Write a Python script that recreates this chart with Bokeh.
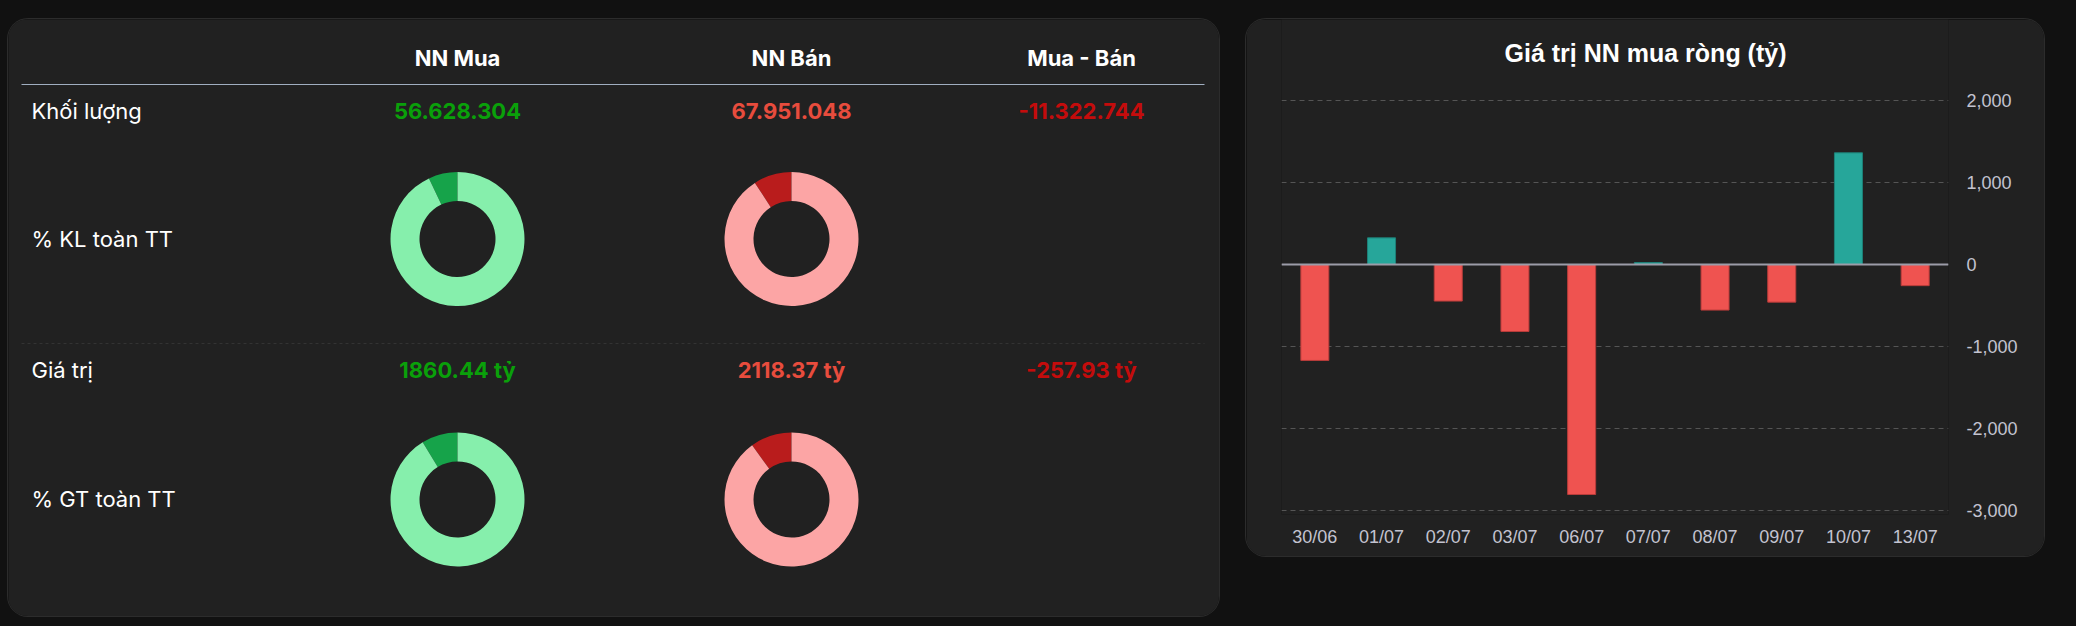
import math
from bokeh.plotting import figure
from bokeh.layouts import row
from bokeh.models import (ColumnDataSource, Range1d, FactorRange, FixedTicker,
                          NumeralTickFormatter, Span, Label, GlobalInlineStyleSheet)
from bokeh.core.properties import value
from bokeh.embed import file_html
from bokeh.resources import INLINE

# ---------------- data ----------------
columns = ["NN Mua", "NN Bán", "Mua - Bán"]
row_labels = ["Khối lượng", "% KL toàn TT", "Giá trị", "% GT toàn TT"]
kl_values = [56628304, 67951048, -11322744]
gt_values = [1860.44, 2118.37, -257.93]
kl_pct = [7.0, 9.2]      # share of whole-market volume (NN Mua, NN Bán), %
gt_pct = [8.7, 10.0]     # share of whole-market value (NN Mua, NN Bán), %
chart_title = "Giá trị NN mua ròng (tỷ)"
dates = ["30/06", "01/07", "02/07", "03/07", "06/07", "07/07", "08/07", "09/07", "10/07", "13/07"]
net_values = [-1170, 325, -446, -817, -2805, 24, -556, -459, 1362, -257.93]
y_ticks = [-3000, -2000, -1000, 0, 1000, 2000]

# ---------------- styles ----------------
BG = "#111111"
PANEL = "#212121"
WHITE = "#ffffff"
VALUE_COLORS = ["#0aa00a", "#e84c3d", "#c40c0c"]
DONUT_DARK = ["#16a34a", "#b91c1c"]
DONUT_LIGHT = ["#86efac", "#fca5a5"]
POS, NEG = "#26a69a", "#ef5350"
POS_EDGE, NEG_EDGE = "#1d8178", "#b83c3a"
TICK_COLOR = "#c3c3d0"
panel_styles = {"border-radius": "20px", "overflow": "hidden",
                "box-shadow": "0 0 0 1px #2c2c2c"}

# ---------------- left panel (table + donuts) ----------------
LW, LH = 1211, 597
left = figure(width=LW, height=LH, x_range=Range1d(0, LW), y_range=Range1d(0, LH),
              output_backend="svg", toolbar_location=None,
              x_axis_type=None, y_axis_type=None, min_border=0,
              background_fill_color=PANEL, border_fill_color=PANEL,
              outline_line_color=None, margin=(19, 0, 10, 8), styles=panel_styles,
              frame_align=False)
left.grid.visible = False

col_x = [449, 783, 1073]
label_x = 23
header_y = LH - 38
line_y = LH - 65
row_y = [LH - 91, LH - 219, LH - 350, LH - 479]
donut_y = [LH - 219.5, LH - 480]
sep_y = LH - 324

FONT = value("Inter")

left.text(x=col_x, y=[header_y] * 3, text=columns, text_font=FONT,
          text_font_size="22px", text_font_style="bold", text_color=WHITE,
          text_align="center", text_baseline="middle")
left.segment(x0=[13], y0=[line_y], x1=[1196], y1=[line_y], line_color="#a0aec0", line_width=1)
left.segment(x0=[13], y0=[sep_y], x1=[1196], y1=[sep_y], line_color="#333333",
             line_width=1, line_dash="3 3")

left.text(x=[label_x] * 4, y=row_y, text=row_labels, text_font=FONT,
          text_font_size="22px", text_color=WHITE,
          text_align="left", text_baseline="middle")

kl_text = [f"{v:,}".replace(",", ".") for v in kl_values]
gt_text = [f"{v:.2f} tỷ" for v in gt_values]
left.text(x=col_x, y=[row_y[0]] * 3, text=kl_text, text_font=FONT,
          text_font_size="22px", text_font_style="bold", text_color=VALUE_COLORS,
          text_align="center", text_baseline="middle")
left.text(x=col_x, y=[row_y[2]] * 3, text=gt_text, text_font=FONT,
          text_font_size="22px", text_font_style="bold", text_color=VALUE_COLORS,
          text_align="center", text_baseline="middle")

top = math.pi / 2
for pcts, cy in [(kl_pct, donut_y[0]), (gt_pct, donut_y[1])]:
    ends = [top + p / 100 * 2 * math.pi for p in pcts]
    left.annular_wedge(x=col_x[:2], y=[cy] * 2, inner_radius=38, outer_radius=67,
                       inner_radius_units="screen", outer_radius_units="screen",
                       start_angle=[top] * 2, end_angle=ends,
                       fill_color=DONUT_DARK, line_color=None)
    left.annular_wedge(x=col_x[:2], y=[cy] * 2, inner_radius=38, outer_radius=67,
                       inner_radius_units="screen", outer_radius_units="screen",
                       start_angle=ends, end_angle=[top + 2 * math.pi] * 2,
                       fill_color=DONUT_LIGHT, line_color=None)

# ---------------- right panel (bar chart) ----------------
RW, RH = 798, 537
FR_LEFT, FR_RIGHT, FR_TOP, FR_BOTTOM = 35, 96, 0, 42
frame_w = RW - FR_LEFT - FR_RIGHT          # 667 px
frame_h = RH - FR_TOP - FR_BOTTOM          # 495 px
GRID_TOP_PX, GRID_BOTTOM_PX = 81, 491      # where 2000 / -3000 sit (px from panel top)
per_px = (y_ticks[-1] - y_ticks[0]) / (GRID_BOTTOM_PX - GRID_TOP_PX)
y_hi = y_ticks[-1] + GRID_TOP_PX * per_px
y_lo = y_ticks[0] - (frame_h - GRID_BOTTOM_PX) * per_px

right = figure(width=RW, height=RH, x_range=FactorRange(factors=dates, range_padding=0),
               y_range=Range1d(y_lo, y_hi), y_axis_location="right",
               output_backend="svg", toolbar_location=None,
               min_border_left=FR_LEFT, min_border_right=FR_RIGHT,
               min_border_top=FR_TOP, min_border_bottom=FR_BOTTOM,
               background_fill_color=PANEL, border_fill_color=PANEL, outline_line_color=None,
               margin=(19, 32, 70, 27), styles=panel_styles, frame_align=False)

src = ColumnDataSource(dict(
    date=dates, val=net_values,
    color=[POS if v >= 0 else NEG for v in net_values],
    edge=[POS_EDGE if v >= 0 else NEG_EDGE for v in net_values]))
right.vbar(x="date", top="val", bottom=0, width=0.42, source=src,
           fill_color="color", line_color="edge", line_width=1)

right.xgrid.visible = False
right.ygrid.ticker = FixedTicker(ticks=y_ticks)
right.ygrid.grid_line_color = "#555555"
right.ygrid.grid_line_dash = "5 4"
right.ygrid.grid_line_width = 1
right.add_layout(Span(location=0, dimension="width", line_color="#9c9ca8", line_width=2))

right.yaxis.ticker = FixedTicker(ticks=y_ticks)
right.yaxis.formatter = NumeralTickFormatter(format="0,0")
for ax in (right.xaxis, right.yaxis):
    ax.axis_line_color = None
    ax.major_tick_line_color = None
    ax.minor_tick_line_color = None
    ax.major_label_text_font = "Liberation Sans"
    ax.major_label_text_font_size = "18px"
    ax.major_label_text_color = TICK_COLOR
right.yaxis.major_label_standoff = 12
right.xaxis.major_label_standoff = 6

# chart title: centred on the panel, 33 px below its top edge (inside the tall frame)
title_x = (RW / 2 - FR_LEFT) / frame_w * len(dates)
title_y = y_hi - 33 * per_px
right.add_layout(Label(x=title_x, y=title_y, text=chart_title,
                       text_font="Liberation Sans", text_font_size="25px",
                       text_font_style="bold", text_color=WHITE,
                       text_align="center", text_baseline="middle"))

layout = row(left, right, styles={"background-color": BG},
             stylesheets=[GlobalInlineStyleSheet(
                 css="html, body { background-color: #111111; margin: 0; overflow: hidden; }")])

open("out.html", "w").write(file_html(layout, INLINE))
